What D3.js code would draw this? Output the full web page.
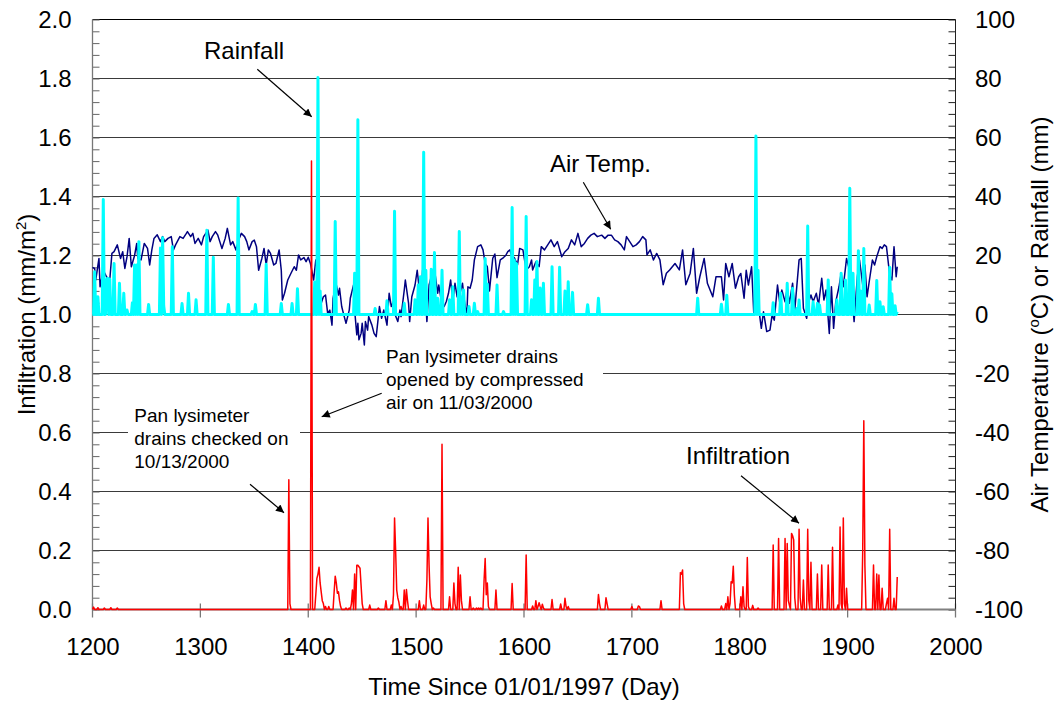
<!DOCTYPE html>
<html><head><meta charset="utf-8">
<script src="https://cdn.jsdelivr.net/npm/d3@7"></script>
<style>
body{margin:0;background:#fff}
svg{display:block}
text{font-family:Arial,"Liberation Sans",sans-serif;fill:#000}
</style>
</head><body>
<svg id="c" width="1057" height="702"></svg>
<script>
// ---------------- data ----------------
const xTicks = [1200,1300,1400,1500,1600,1700,1800,1900,2000];
const leftTicks = [0,0.2,0.4,0.6,0.8,1.0,1.2,1.4,1.6,1.8,2.0];
const rightTicks = [-100,-80,-60,-40,-20,0,20,40,60,80,100];
const firstDay = 1200, lastDay = 1946;

// Air temperature (deg C), [day, value]
const airTemp = [[1200,16],[1202,15.6],[1203,11.7],[1206,19],[1207,9.4],[1210,15],[1213,12.8],[1216,11.7],[1218,20.7],[1220,21.3],[1223,23.6],[1226,19],[1228,21.3],[1230,15.6],[1232,19.6],[1234,25.8],[1236,16.2],[1239,20],[1241,24.1],[1242,19],[1245,18.5],[1248,24.1],[1251,22.4],[1253,16.8],[1255,21.9],[1257,25.8],[1260,27],[1263,24.7],[1265,26.4],[1267,24.7],[1270,25.8],[1273,26.4],[1275,21.9],[1277,23.6],[1281,26.4],[1284,25.8],[1287,27.5],[1288,28.1],[1291,26.4],[1293,27.5],[1295,24.1],[1298,25.8],[1301,23.6],[1303,26.4],[1305,27.5],[1307,28.6],[1309,24.7],[1311,26.4],[1314,28.1],[1316,27],[1318,24.7],[1320,22.4],[1323,25.8],[1325,29.2],[1328,23.6],[1330,24.7],[1333,21.9],[1336,25.8],[1338,27.5],[1341,26.4],[1343,24.7],[1345,21.9],[1348,24.7],[1350,25.2],[1352,23],[1354,15],[1357,19],[1359,22.4],[1361,16.8],[1363,21.9],[1365,20.7],[1368,16.8],[1370,17.3],[1373,21.9],[1375,15],[1376,4.9],[1378,7.2],[1381,11.7],[1384,14],[1387,16.2],[1389,15],[1391,20.2],[1393,18.5],[1396,19.3],[1398,17.9],[1400,19.4],[1402,17.3],[1405,11.7],[1407,18.5],[1408,16.2],[1410,8.3],[1412,3.8],[1414,6],[1416,6.6],[1418,0.4],[1420,1.5],[1422,-3.6],[1423,5.5],[1425,9.4],[1426,10],[1428,6.6],[1429,8.9],[1431,2.7],[1433,-0.2],[1435,-3],[1438,1.5],[1439,5.5],[1442,10],[1443,1.5],[1445,-6.9],[1446,-3],[1447,-8.6],[1449,-6.4],[1450,-3],[1452,-10.3],[1453,-2.4],[1455,-5.3],[1456,-0.7],[1459,-3.6],[1461,-6.4],[1463,-7.5],[1465,-0.7],[1466,2.7],[1468,-1.3],[1470,1.5],[1473,-3.6],[1475,7.2],[1477,2.7],[1479,4.4],[1480,0.4],[1483,-2.4],[1485,1.5],[1486,-0.7],[1489,8.3],[1490,11.7],[1493,3.8],[1494,-2.4],[1496,6],[1499,10],[1501,15],[1503,8.3],[1504,1.5],[1506,15],[1508,9.4],[1510,-2.4],[1512,10],[1514,12.8],[1515,6],[1517,15.3],[1520,7.2],[1521,10],[1524,3.2],[1526,2.7],[1528,4.4],[1530,7.2],[1532,11.7],[1534,4.4],[1536,10.6],[1538,6],[1540,10.6],[1541,7.7],[1543,10.6],[1545,3.8],[1547,-0.2],[1548,9.4],[1550,8.9],[1552,11.7],[1554,18.5],[1557,23],[1560,23.6],[1562,21.9],[1564,17.3],[1566,16.2],[1568,8],[1571,19],[1573,20.5],[1575,12.5],[1578,18.5],[1581,19.3],[1583,20],[1585,21.3],[1587,21.9],[1589,19],[1591,19.3],[1594,16.8],[1596,22.4],[1599,21.9],[1602,15.1],[1605,16.2],[1607,18.5],[1608,15.1],[1611,17.9],[1614,16.2],[1616,23],[1619,21.9],[1622,23.6],[1625,25.3],[1628,23],[1631,24.7],[1635,19.6],[1638,21.3],[1641,22.4],[1644,25.3],[1647,23.6],[1650,27.5],[1653,23],[1656,24.1],[1659,25.8],[1662,26.9],[1665,27.5],[1668,26.4],[1672,26.9],[1675,25.8],[1678,26.9],[1681,26.9],[1684,25.3],[1687,24.7],[1690,23.6],[1693,21.9],[1695,26.4],[1698,24.7],[1701,23],[1704,23.6],[1707,24.7],[1710,26.4],[1713,25.3],[1714,20.2],[1717,21.9],[1720,18.5],[1723,20.7],[1726,18.5],[1729,10.1],[1732,14],[1735,15.1],[1740,17.3],[1744,15.1],[1747,21.9],[1750,10.1],[1754,14],[1757,22.4],[1760,7.2],[1763,12.8],[1767,19],[1770,10.6],[1775,6],[1778,12.8],[1783,12.8],[1785,4.9],[1787,17.3],[1790,12.8],[1793,17.3],[1796,8.9],[1799,12.8],[1801,13.9],[1804,5.5],[1806,15],[1808,10],[1811,16.2],[1813,0.4],[1816,7.7],[1818,0.9],[1820,-4.7],[1822,0.9],[1825,-5.8],[1828,-5.3],[1830,-0.2],[1832,-1.9],[1835,10],[1837,4.3],[1839,8.3],[1842,4.3],[1844,8.9],[1846,3.8],[1849,10.6],[1851,1.5],[1855,18.5],[1857,19],[1859,2.1],[1862,-1.3],[1864,4.3],[1866,6.6],[1868,4.3],[1871,7.2],[1873,3.2],[1876,12.3],[1878,4.9],[1880,8.3],[1883,-6.4],[1885,9.4],[1887,-4.7],[1889,4.3],[1892,9.4],[1894,13.9],[1896,9.4],[1899,19],[1901,16.2],[1902,15],[1904,6.6],[1906,-2.4],[1909,12.8],[1911,18.5],[1914,10],[1916,16.8],[1918,6],[1920,11.1],[1923,18.5],[1925,16.8],[1927,19.6],[1930,23],[1932,22.4],[1934,23.6],[1936,23],[1939,13.4],[1941,11.7],[1943,23],[1945,12.8],[1946,16.2]];

// Rainfall (mm) on wet days, [day, value]; all other days are 0
const rainfall = [[1202,14.5],[1205,6],[1210,39],[1213,11.7],[1214,12.3],[1216,12],[1220,17.3],[1225,10.6],[1229,7.2],[1232,1.5],[1237,4],[1239,16.8],[1241,16.8],[1243,24.7],[1252,3.4],[1263,22.5],[1265,26],[1266,3],[1274,23],[1283,3.7],[1289,7.2],[1296,5],[1306,28.6],[1312,19.4],[1326,3.4],[1335,39.5],[1348,1],[1351,3.4],[1361,17],[1375,3.7],[1385,3.7],[1390,8.7],[1406,11],[1409,80.3],[1411,8],[1425,31.5],[1443,14],[1446,66],[1462,2],[1473,4.7],[1480,35],[1489,3.8],[1499,5],[1502,10],[1504,12.8],[1507,55],[1509,15],[1514,15.3],[1517,21],[1520,5.5],[1524,15],[1531,5],[1534,9.4],[1540,28.1],[1542,6],[1544,8.3],[1549,2.7],[1554,3.8],[1557,1],[1564,19],[1566,10.3],[1575,10],[1581,1],[1589,36.3],[1591,18.5],[1593,17.3],[1602,33.2],[1607,5],[1610,11.7],[1612,18],[1615,9],[1618,10.6],[1626,16.2],[1633,16],[1638,8],[1641,11.1],[1645,7.5],[1659,3.3],[1669,5.5],[1761,5.5],[1783,3.5],[1788,6.5],[1815,60.5],[1817,15],[1831,4],[1838,7.2],[1844,10.6],[1849,8.9],[1853,2],[1855,4.9],[1863,30],[1868,4.3],[1872,3.8],[1874,3.2],[1882,11.7],[1890,4.9],[1894,14],[1898,11.7],[1902,42.8],[1905,14],[1910,21.6],[1912,8],[1915,22.4],[1920,3.2],[1927,11.5],[1930,4.3],[1933,2.6],[1939,16],[1941,7],[1944,3],[1946,1]];

// Infiltration (mm/m2) on days with drainage, [day, value]; all other days are 0
const infiltration = [[1201,0.008],[1205,0.006],[1211,0.005],[1217,0.006],[1223,0.005],[1382,0.44],[1383,0.02],[1403,1.52],[1407,0.05],[1408,0.105],[1409,0.12],[1410,0.143],[1411,0.09],[1412,0.06],[1413,0.03],[1414,0.02],[1416,0.01],[1419,0.01],[1424,0.06],[1425,0.113],[1426,0.09],[1427,0.055],[1428,0.06],[1429,0.03],[1430,0.01],[1435,0.005],[1438,0.005],[1440,0.02],[1441,0.066],[1443,0.12],[1445,0.15],[1446,0.15],[1447,0.145],[1448,0.14],[1449,0.08],[1450,0.02],[1457,0.015],[1465,0.005],[1472,0.03],[1477,0.015],[1479,0.05],[1480,0.31],[1481,0.2],[1482,0.066],[1483,0.04],[1484,0.025],[1486,0.01],[1489,0.066],[1491,0.068],[1492,0.03],[1503,0.03],[1507,0.015],[1510,0.1],[1511,0.31],[1512,0.15],[1513,0.043],[1514,0.02],[1516,0.005],[1524,0.56],[1531,0.043],[1535,0.09],[1536,0.02],[1539,0.143],[1541,0.117],[1542,0.03],[1550,0.043],[1553,0.005],[1556,0.005],[1558,0.005],[1560,0.005],[1563,0.1],[1564,0.173],[1565,0.05],[1566,0.09],[1567,0.01],[1574,0.066],[1589,0.088],[1602,0.185],[1608,0.012],[1611,0.03],[1613,0.01],[1614,0.023],[1615,0.01],[1617,0.018],[1618,0.005],[1626,0.034],[1634,0.019],[1638,0.038],[1639,0.01],[1641,0.01],[1669,0.051],[1670,0.02],[1676,0.04],[1677,0.02],[1700,0.01],[1706,0.012],[1707,0.01],[1727,0.03],[1745,0.125],[1746,0.12],[1747,0.134],[1748,0.02],[1783,0.012],[1787,0.02],[1789,0.043],[1791,0.02],[1792,0.094],[1793,0.09],[1794,0.147],[1795,0.05],[1801,0.043],[1803,0.077],[1804,0.01],[1807,0.176],[1808,0.01],[1812,0.014],[1817,0.005],[1831,0.219],[1836,0.241],[1842,0.241],[1844,0.224],[1845,0.03],[1846,0.015],[1848,0.258],[1849,0.25],[1850,0.236],[1851,0.04],[1855,0.272],[1856,0.04],[1859,0.1],[1863,0.272],[1864,0.03],[1866,0.16],[1872,0.12],[1876,0.151],[1882,0.151],[1886,0.211],[1891,0.015],[1893,0.28],[1894,0.02],[1896,0.31],[1897,0.02],[1899,0.072],[1914,0.2],[1915,0.64],[1916,0.15],[1924,0.151],[1927,0.12],[1929,0.117],[1932,0.072],[1936,0.02],[1937,0.038],[1939,0.272],[1943,0.038],[1946,0.11]];

// ---------------- layout ----------------
const svg = d3.select("#c");
const P = {l:92.5, r:955.5, t:19.5, b:609.5};
const FS = 24;
const x = d3.scaleLinear().domain([1200,2000]).range([P.l,P.r]);
const yL = d3.scaleLinear().domain([0,2]).range([P.b,P.t]);
const yR = d3.scaleLinear().domain([-100,100]).range([P.b,P.t]);

// daily series (days without an entry are zero)
function daily(pairs){
  const m = new Map(pairs);
  return d3.range(firstDay, lastDay+1).map(d => [d, m.has(d) ? m.get(d) : 0]);
}

svg.append("defs").append("marker")
  .attr("id","ah").attr("viewBox","0 0 10 10").attr("refX",10).attr("refY",5)
  .attr("markerWidth",10).attr("markerHeight",8).attr("markerUnits","userSpaceOnUse")
  .attr("orient","auto")
  .append("path").attr("d","M0,0 L10,5 L0,10 Z").attr("fill","#000");

// gridlines
svg.append("g").selectAll("line").data(leftTicks.filter(v => v>0 && v<2)).join("line")
  .attr("x1",P.l).attr("x2",P.r).attr("y1",d=>yL(d)).attr("y2",d=>yL(d))
  .attr("stroke","#3a3a3a").attr("stroke-width",1);
svg.append("line").attr("x1",P.l).attr("x2",P.r).attr("y1",P.t).attr("y2",P.t)
  .attr("stroke","#000").attr("stroke-width",1);

// minor ticks
svg.append("g").attr("transform",`translate(${P.l},0)`)
  .call(d3.axisLeft(yL).tickValues(d3.range(0,2.001,0.04)).tickSize(-7).tickFormat(""))
  .call(g=>g.select(".domain").remove())
  .selectAll("line").attr("stroke","#666");
svg.append("g").attr("transform",`translate(${P.r},0)`)
  .call(d3.axisRight(yR).tickValues(d3.range(-100,100.1,4)).tickSize(-7).tickFormat(""))
  .call(g=>g.select(".domain").remove())
  .selectAll("line").attr("stroke","#222");
svg.append("g").selectAll("line").data(xTicks).join("line")
  .attr("x1",d=>x(d)).attr("x2",d=>x(d)).attr("y1",P.b-6).attr("y2",P.b+8)
  .attr("stroke","#777").attr("stroke-width",1.3);

// axis lines
svg.append("line").attr("x1",P.l).attr("x2",P.l).attr("y1",P.t).attr("y2",P.b)
  .attr("stroke","#777").attr("stroke-width",1.3);
svg.append("line").attr("x1",P.r).attr("x2",P.r).attr("y1",P.t).attr("y2",P.b)
  .attr("stroke","#222").attr("stroke-width",1);
svg.append("line").attr("x1",P.l).attr("x2",P.r).attr("y1",P.b).attr("y2",P.b)
  .attr("stroke","#808080").attr("stroke-width",2);

// tick labels
const lab = g => { g.select(".domain").remove(); g.selectAll("text").attr("font-size",FS).attr("font-family","Arial, 'Liberation Sans', sans-serif").attr("fill","#000"); };
svg.append("g").attr("transform",`translate(${P.l},0)`)
  .call(d3.axisLeft(yL).tickValues(leftTicks).tickFormat(d => d.toFixed(1)).tickSize(0).tickPadding(21))
  .call(lab).selectAll("text").attr("dy","0.35em");
svg.append("g").attr("transform",`translate(${P.r},0)`)
  .call(d3.axisRight(yR).tickValues(rightTicks).tickFormat(d => String(d)).tickSize(0).tickPadding(19.5))
  .call(lab).selectAll("text").attr("dy","0.35em");
svg.append("g").attr("transform",`translate(0,${P.b})`)
  .call(d3.axisBottom(x).tickValues(xTicks).tickFormat(d => String(d)).tickSize(0).tickPadding(28.5))
  .call(lab);

// axis titles
svg.append("text").attr("x",(P.l+P.r)/2).attr("y",695).attr("text-anchor","middle")
  .attr("font-size",FS).text("Time Since 01/01/1997 (Day)");
const lt = svg.append("text").attr("transform",`translate(35,${(P.t+P.b)/2}) rotate(-90)`)
  .attr("text-anchor","middle").attr("font-size",FS);
lt.append("tspan").text("Infiltration (mm/m");
lt.append("tspan").attr("dy",-9).attr("font-size",15).text("2");
lt.append("tspan").attr("dy",9).text(")");
const rt = svg.append("text").attr("transform",`translate(1048,${(P.t+P.b)/2}) rotate(-90)`)
  .attr("text-anchor","middle").attr("font-size",FS);
rt.append("tspan").text("Air Temperature (");
rt.append("tspan").attr("dy",-9).attr("font-size",15).text("o");
rt.append("tspan").attr("dy",9).text("C) or Rainfall (mm)");

// data lines
const lineR = d3.line().x(d=>x(d[0])).y(d=>yR(d[1]));
const lineL = d3.line().x(d=>x(d[0])).y(d=>yL(d[1]));
svg.append("path").datum(airTemp).attr("d",lineR).attr("fill","none")
  .attr("stroke","#000080").attr("stroke-width",1.5).attr("stroke-linejoin","round");
svg.append("path").datum(daily(rainfall)).attr("d",lineR).attr("fill","none")
  .attr("stroke","#00FFFF").attr("stroke-width",3).attr("stroke-linejoin","round");
svg.append("path").datum(daily(infiltration)).attr("d",lineL).attr("fill","none")
  .attr("stroke","#FF0000").attr("stroke-width",1.5).attr("stroke-linejoin","round");

// annotations
function box(x0,y0,w,h){ svg.append("rect").attr("x",x0).attr("y",y0).attr("width",w).attr("height",h).attr("fill","#fff"); }
function lines(x0,y0,arr,fs){ const t=svg.append("text").attr("font-size",fs);
  arr.forEach((s,i)=>t.append("tspan").attr("x",x0).attr("y",y0+i*23).text(s)); }
function arrow(x1,y1,x2,y2){ svg.append("line").attr("x1",x1).attr("y1",y1).attr("x2",x2).attr("y2",y2)
  .attr("stroke","#000").attr("stroke-width",1.2).attr("marker-end","url(#ah)"); }

box(128,403,172,72);
lines(134.3,421.5,["Pan lysimeter","drains checked on","10/13/2000"],19);
box(382,343,221,74);
lines(386,363.3,["Pan lysimeter drains","opened by compressed","air on 11/03/2000"],19);

svg.append("text").attr("x",204).attr("y",58.7).attr("font-size",FS).text("Rainfall");
svg.append("text").attr("x",550).attr("y",171.7).attr("font-size",FS).text("Air Temp.");
svg.append("text").attr("x",686).attr("y",464.3).attr("font-size",FS).text("Infiltration");

arrow(257.3,69.3,311.7,116.7);
arrow(583.3,182.3,610.7,229.3);
arrow(250,484.3,284,512.7);
arrow(381.7,393.3,321.7,416.7);
arrow(741,475.7,799,523.3);
</script>
</body></html>
